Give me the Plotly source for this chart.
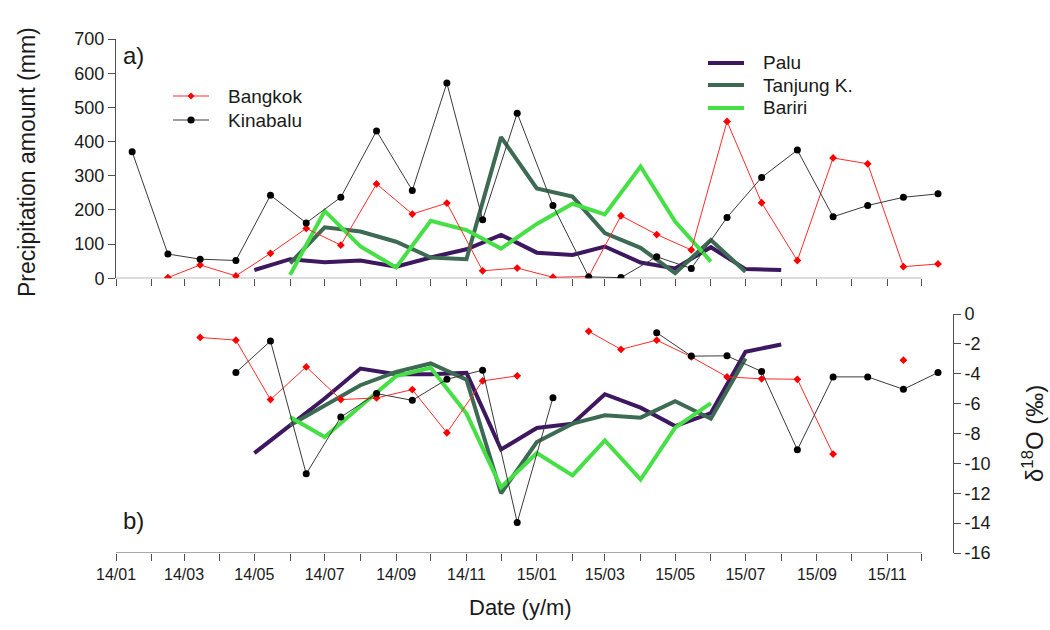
import plotly.graph_objects as go

months = ["2014-01", "2014-02", "2014-03", "2014-04", "2014-05", "2014-06",
          "2014-07", "2014-08", "2014-09", "2014-10", "2014-11", "2014-12",
          "2015-01", "2015-02", "2015-03", "2015-04", "2015-05", "2015-06",
          "2015-07", "2015-08", "2015-09", "2015-10", "2015-11", "2015-12"]
mid_month = [m + "-15" for m in months]     # Bangkok / Kinabalu sampling
start_month = [m + "-01" for m in months]   # Palu / Tanjung K. / Bariri sampling

# Precipitation amount (mm)
bangkok_p = [None, 2, 39, 7, 73, 146, 97, 276, 188, 220, 22, 30,
             3, 5, 183, 128, 83, 459, 221, 52, 352, 335, 34, 42]
kinabalu_p = [370, 71, 56, 52, 243, 162, 237, 431, 257, 571, 171, 483,
              213, 4, 2, 63, 29, 178, 295, 375, 180, 213, 237, 247]
palu_p = [None, None, None, None, 24, 56, 47, 52, 34, 61, 85, 127,
          75, 68, 93, 46, 29, 91, 27, 24, None, None, None, None]
tanjung_p = [None, None, None, None, None, 44, 149, 137, 107, 61, 56, 413,
             263, 239, 132, 89, 15, 112, 19, None, None, None, None, None]
bariri_p = [None, None, None, None, None, 10, 197, 93, 32, 168, 141, 87,
            159, 218, 187, 327, 166, 49, None, None, None, None, None, None]

# delta 18O (permil)
bangkok_d = [None, None, -1.57, -1.75, -5.73, -3.54, -5.73, -5.62, -5.06, -7.95, -4.48, -4.14,
             None, -1.16, -2.37, -1.75, -2.87, -4.21, -4.34, -4.37, -9.38, None, -3.09, None]
kinabalu_d = [None, None, None, -3.92, -1.81, -10.7, -6.9, -5.33, -5.78, -4.37, -3.76, -13.95,
              -5.6, None, None, -1.25, -2.82, -2.8, -3.85, -9.09, -4.21, -4.21, -5.04, -3.92]
palu_d = [None, None, None, None, -9.31, -7.45, -5.66, -3.65, -4.03, -4.03, -3.94, -9.07,
          -7.63, -7.34, -5.37, -6.27, -7.5, -6.63, -2.53, -2.04, None, None, None, None]
tanjung_d = [None, None, None, None, None, -7.45, -6.11, -4.77, -3.87, -3.31, -4.39, -12.0,
             -8.57, -7.34, -6.78, -6.94, -5.84, -7.01, -2.98, None, None, None, None, None]
bariri_d = [None, None, None, None, None, -6.9, -8.24, -6.18, -4.16, -3.6, -6.67, -11.6,
            -9.31, -10.81, -8.46, -11.08, -7.61, -5.96, None, None, None, None, None, None]

y1_ticks = [0, 100, 200, 300, 400, 500, 600, 700]
y2_ticks = [0, -2, -4, -6, -8, -10, -12, -14, -16]
y2_ticktext = ["0", "-2", "-4", "-6", "-8", "-10", "-12", "-14", "-16"]

FONT = "Liberation Sans, Arial, sans-serif"
AX = "#505050"
TXT = "#1a1a1a"
C_PALU = "#3d1760"
C_TANJ = "#3c6a52"
C_BARI = "#46e046"
C_BKK = "#ff2b2b"
C_KIN = "#3a3a3a"

# plot area in pixels (for placing paper-referenced decorations)
L, R, T, B = 116, 97, 39, 77
W, H = 1050, 630
PW, PH = W - L - R, H - T - B


def px(xpix):
    return (xpix - L) / PW


def py(ypix):
    return (H - B - ypix) / PH


fig = go.Figure()

thick = [("Palu", palu_p, palu_d, C_PALU),
         ("Tanjung K.", tanjung_p, tanjung_d, C_TANJ),
         ("Bariri", bariri_p, bariri_d, C_BARI)]
for name, p, d, c in thick:
    fig.add_trace(go.Scatter(x=start_month, y=p, name=name, mode="lines",
                             line=dict(color=c, width=4), xaxis="x", yaxis="y"))
    fig.add_trace(go.Scatter(x=start_month, y=d, name=name, mode="lines",
                             line=dict(color=c, width=4), xaxis="x2", yaxis="y2"))

thin = [("Bangkok", bangkok_p, bangkok_d, C_BKK, "diamond", 6, "red"),
        ("Kinabalu", kinabalu_p, kinabalu_d, C_KIN, "circle", 7, "black")]
for name, p, d, c, sym, sz, mc in thin:
    fig.add_trace(go.Scatter(x=mid_month, y=p, name=name, mode="lines+markers",
                             line=dict(color=c, width=1),
                             marker=dict(symbol=sym, size=sz, color=mc),
                             xaxis="x", yaxis="y"))
    fig.add_trace(go.Scatter(x=mid_month, y=d, name=name, mode="lines+markers",
                             line=dict(color=c, width=1),
                             marker=dict(symbol=sym, size=sz, color=mc),
                             xaxis="x2", yaxis="y2"))

x_range = ["2014-01-01", "2015-12-28"]
common_x = dict(type="date", range=x_range, showgrid=False, zeroline=False,
                showline=False, ticks="outside", ticklen=7, tickcolor=AX,
                tickwidth=1)

fig.update_layout(
    width=W, height=H,
    margin=dict(l=L, r=R, t=T, b=B),
    paper_bgcolor="white", plot_bgcolor="white",
    font=dict(family=FONT, size=18, color=TXT),
    showlegend=False,
    xaxis=dict(**common_x, anchor="y", dtick="M1", tick0="2014-01-01",
               showticklabels=False, domain=[0, 1]),
    yaxis=dict(domain=[py(278.3), 1.0], range=[0, 700], tickvals=y1_ticks,
               showgrid=False, zeroline=False, showline=True, linecolor=AX,
               linewidth=1, ticks="outside", ticklen=7, tickcolor=AX,
               tickfont=dict(size=18)),
    xaxis2=dict(**common_x, anchor="y2", dtick="M2", tick0="2014-01-01",
                tickformat="%y/%m", tickfont=dict(size=16),
                minor=dict(dtick="M1", ticks="outside", ticklen=7,
                           tickcolor=AX, tickwidth=1),
                domain=[0, 1]),
    yaxis2=dict(domain=[0.0, py(314)], range=[-16, 0], side="right", anchor="x2",
                tickvals=y2_ticks, ticktext=y2_ticktext, showgrid=False,
                zeroline=False, showline=True, linecolor=AX, linewidth=1,
                ticks="outside", ticklen=7, tickcolor=AX,
                tickfont=dict(size=18)),
)

# R-style x axis lines running from first to last tick
fig.add_shape(type="line", xref="x", yref="y", x0="2014-01-01", x1="2015-12-01",
              y0=0, y1=0, line=dict(color=AX, width=1))
fig.add_shape(type="line", xref="x2", yref="y2", x0="2014-01-01", x1="2015-12-01",
              y0=-16, y1=-16, line=dict(color=AX, width=1))

ann = dict(showarrow=False, xref="paper", yref="paper", xanchor="center", yanchor="middle")
fig.add_annotation(text="a)", x=px(133), y=py(55),
                   font=dict(family=FONT, size=24, color=TXT), **ann)
fig.add_annotation(text="b)", x=px(133), y=py(520),
                   font=dict(family=FONT, size=24, color=TXT), **ann)
fig.add_annotation(text="Date (y/m)", x=px(520), y=py(607),
                   font=dict(family=FONT, size=22, color=TXT), **ann)
fig.add_annotation(text="Precipitation amount (mm)", x=px(27), y=py(162), textangle=-90,
                   font=dict(family=FONT, size=23, color=TXT), **ann)
fig.add_annotation(text="δ<sup>18</sup>O (‰)", x=px(1033), y=py(434), textangle=-90,
                   font=dict(family=FONT, size=24, color=TXT), **ann)

# Legends (drawn as keys + labels so spacing matches the original)
leg_font = dict(family=FONT, size=19, color=TXT)
legend1 = [("Bangkok", C_BKK, 1, "diamond", 96),
           ("Kinabalu", C_KIN, 1, "circle", 120)]
for name, c, w, mk, ypix in legend1:
    fig.add_shape(type="line", xref="paper", yref="paper", x0=px(173), x1=px(209),
                  y0=py(ypix), y1=py(ypix), line=dict(color=c, width=w))
    if mk == "circle":
        fig.add_shape(type="circle", xref="paper", yref="paper",
                      xsizemode="pixel", ysizemode="pixel",
                      xanchor=px(191), yanchor=py(ypix),
                      x0=-3.6, x1=3.6, y0=-3.6, y1=3.6,
                      fillcolor="black", line=dict(color="black", width=0))
    else:
        fig.add_shape(type="path", xref="paper", yref="paper",
                      xsizemode="pixel", ysizemode="pixel",
                      xanchor=px(191), yanchor=py(ypix),
                      path="M -3.5 0 L 0 3.5 L 3.5 0 L 0 -3.5 Z",
                      fillcolor="red", line=dict(color="red", width=0))
    fig.add_annotation(text=name, x=px(226), y=py(ypix), xanchor="left",
                       yanchor="middle", showarrow=False, xref="paper", yref="paper",
                       font=leg_font)

legend2 = [("Palu", C_PALU, 63), ("Tanjung K.", C_TANJ, 85), ("Bariri", C_BARI, 108)]
for name, c, ypix in legend2:
    fig.add_shape(type="line", xref="paper", yref="paper", x0=px(708), x1=px(744),
                  y0=py(ypix), y1=py(ypix), line=dict(color=c, width=4))
    fig.add_annotation(text=name, x=px(761), y=py(ypix), xanchor="left",
                       yanchor="middle", showarrow=False, xref="paper", yref="paper",
                       font=leg_font)

fig.write_html("out.html")
